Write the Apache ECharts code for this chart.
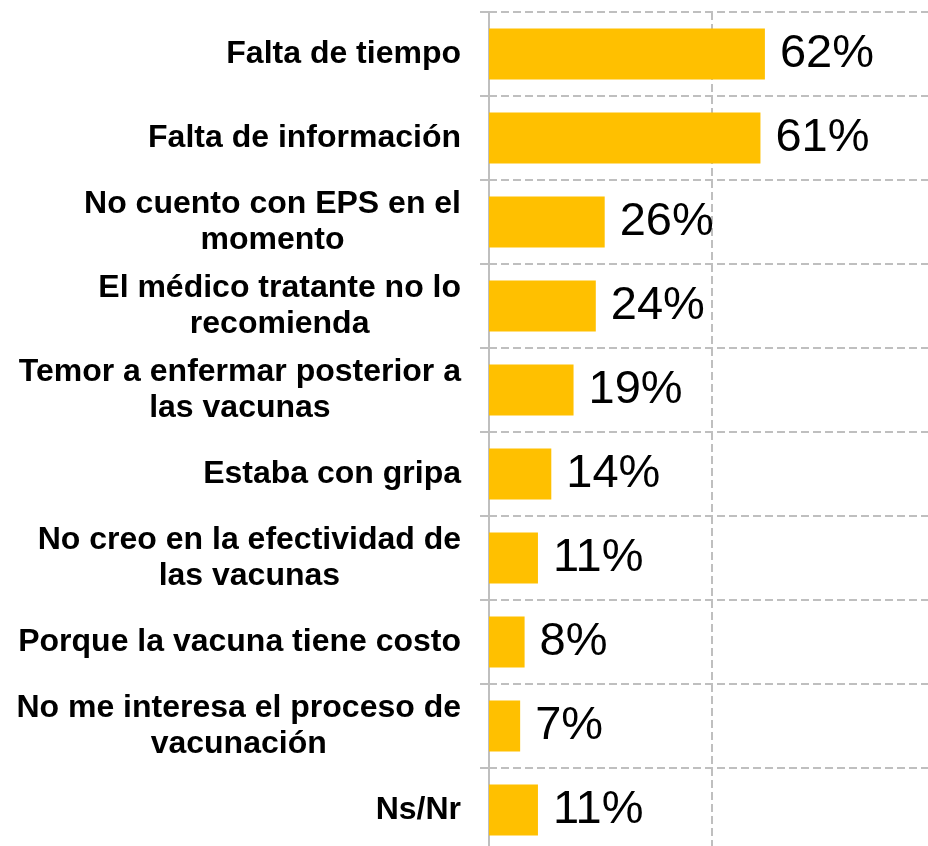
<!DOCTYPE html>
<html>
<head>
<meta charset="utf-8">
<script src="https://cdn.jsdelivr.net/npm/echarts@6/dist/echarts.min.js"></script>
<style>
html,body{margin:0;padding:0;background:#fff;}
#chart{width:928px;height:846px;}
</style>
</head>
<body>
<div id="chart"></div>
<script>
const categories = [
  "Falta de tiempo",
  "Falta de información",
  "No cuento con EPS en el\nmomento",
  "El médico tratante no lo\nrecomienda",
  "Temor a enfermar posterior a\nlas vacunas",
  "Estaba con gripa",
  "No creo en la efectividad de\nlas vacunas",
  "Porque la vacuna tiene costo",
  "No me interesa el proceso de\nvacunación",
  "Ns/Nr"
];
const values = [62, 61, 26, 24, 19, 14, 11, 8, 7, 11];

const FONT = '"Liberation Sans", Arial, Helvetica, sans-serif';
const GRID_COLOR = '#BFBFBF';

const chart = echarts.init(document.getElementById('chart'), null, {renderer: 'canvas'});
chart.setOption({
  backgroundColor: '#ffffff',
  animation: false,
  grid: {left: 489, top: 12, width: 445, height: 840, containLabel: false, outerBoundsMode: 'none'},
  xAxis: {
    type: 'value',
    min: 0, max: 100, interval: 50,
    axisLine: {show: false},
    axisTick: {show: false},
    axisLabel: {show: false},
    splitLine: {show: true, lineStyle: {color: GRID_COLOR, width: 2, type: [8, 4]}}
  },
  yAxis: {
    type: 'category',
    inverse: true,
    data: categories,
    axisLine: {show: true, lineStyle: {color: GRID_COLOR, width: 2}},
    axisTick: {show: true, length: 9, lineStyle: {color: GRID_COLOR, width: 2}},
    splitLine: {show: true, lineStyle: {color: GRID_COLOR, width: 2, type: [8, 4]}},
    axisLabel: {
      margin: 28,
      interval: 0,
      color: '#000',
      fontFamily: FONT,
      fontSize: 32,
      fontWeight: 'bold',
      formatter: function (v) {
        return v.split('\n').map(function (l) { return '{c|' + l + '}'; }).join('\n');
      },
      rich: {
        c: {align: 'center', fontFamily: FONT, fontSize: 32, fontWeight: 'bold', lineHeight: 36, color: '#000'}
      }
    }
  },
  series: [{
    type: 'bar',
    data: values,
    barWidth: 51,
    itemStyle: {color: '#FFC000'},
    label: {
      show: true,
      position: 'right',
      distance: 15,
      formatter: '{c}%',
      color: '#000',
      fontFamily: FONT,
      fontSize: 47,
      fontWeight: 'normal'
    }
  }]
});
</script>
</body>
</html>
